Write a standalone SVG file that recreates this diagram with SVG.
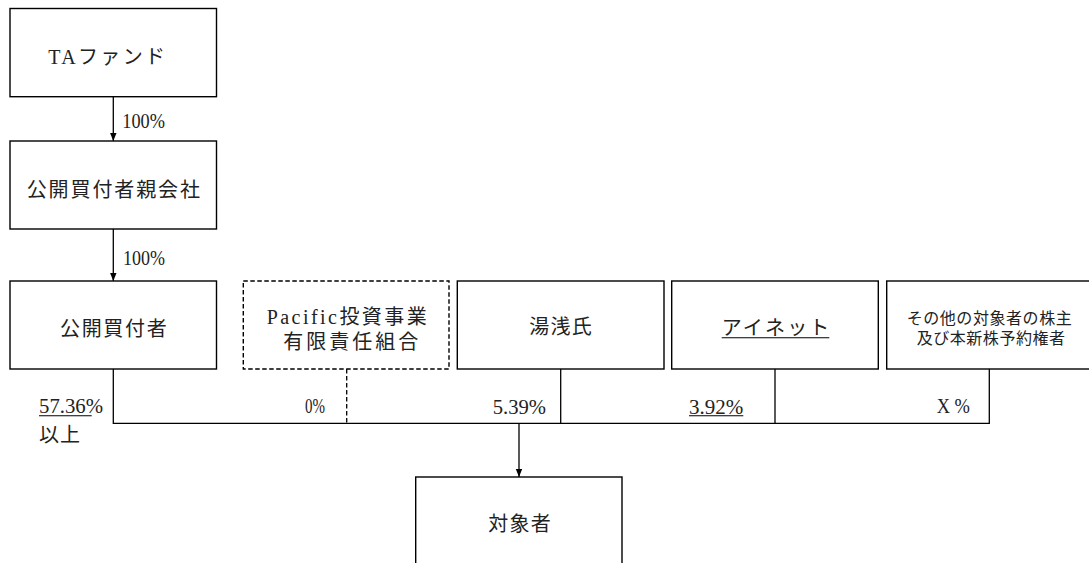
<svg xmlns="http://www.w3.org/2000/svg" width="1089" height="563" viewBox="0 0 1089 563">
<style>
.box{fill:#fff;stroke:#000;stroke-width:1.4}
.dash{stroke-dasharray:4.5,2.5}
.ln{fill:none;stroke:#000;stroke-width:1.3}
.t{font-family:"Liberation Serif","Noto Sans CJK JP",serif;font-size:20px;fill:#222}
.s{font-size:16px}
.u{stroke:#000;stroke-width:1.1}
</style>
<defs>
<marker id="ah" markerUnits="userSpaceOnUse" markerWidth="8" markerHeight="10" refX="4" refY="9" orient="auto-start-reverse" viewBox="0 0 8 10">
<path d="M0.8,1 L7.2,1 L4,9 Z" fill="#000"/>
</marker>
<marker id="ad" markerUnits="userSpaceOnUse" markerWidth="8" markerHeight="10" refX="4" refY="9" viewBox="0 0 8 10">
<path d="M0.8,1 L7.2,1 L4,9 Z" fill="#000"/>
</marker>
</defs>

<g id="connectors">
<line class="ln" x1="113.3" y1="96.7" x2="113.3" y2="141" marker-end="url(#ad)"/>
<line class="ln" x1="113.3" y1="229" x2="113.3" y2="281" marker-end="url(#ad)"/>
<polyline class="ln" points="113.3,369 113.3,423.3 989.3,423.3 989.3,369"/>
<line class="ln dash" x1="346.7" y1="369" x2="346.7" y2="423.3"/>
<line class="ln" x1="560.7" y1="369" x2="560.7" y2="423.3"/>
<line class="ln" x1="775" y1="369" x2="775" y2="423.3"/>
<line class="ln" x1="519" y1="423.3" x2="519" y2="477" marker-end="url(#ad)"/>
</g>

<g id="edge-labels">
<text class="t" x="122.3" y="128.3" textLength="42.7" lengthAdjust="spacingAndGlyphs">100%</text>
<text class="t" x="123" y="264.5" textLength="42" lengthAdjust="spacingAndGlyphs">100%</text>
<text class="t" x="39" y="413.3" textLength="64" lengthAdjust="spacingAndGlyphs">57.36%</text>
<line class="u" x1="39" y1="415.7" x2="91.7" y2="415.7"/>
<text class="t" x="39" y="441.6" textLength="41" lengthAdjust="spacing">以上</text>
<text class="t" x="305" y="413.3" textLength="20" lengthAdjust="spacingAndGlyphs">0%</text>
<text class="t" x="492.7" y="413.5" textLength="53.3" lengthAdjust="spacingAndGlyphs">5.39%</text>
<text class="t" x="689" y="413.5" textLength="54.3" lengthAdjust="spacingAndGlyphs">3.92%</text>
<line class="u" x1="689" y1="415.7" x2="743.3" y2="415.7"/>
<text class="t" x="936.7" y="413" textLength="33.3" lengthAdjust="spacingAndGlyphs">X %</text>
</g>

<g id="node-ta-fund">
<rect class="box" x="10" y="8.5" width="206.5" height="88.2"/>
<text class="t" x="48.3" y="64.1" textLength="116.7" lengthAdjust="spacing">TAファンド</text>
</g>

<g id="node-parent">
<rect class="box" x="10" y="141" width="206.5" height="88"/>
<text class="t" x="26.7" y="196.6" textLength="173.3" lengthAdjust="spacing">公開買付者親会社</text>
</g>

<g id="node-offeror">
<rect class="box" x="10" y="281" width="206.5" height="88"/>
<text class="t" x="60" y="335.6" textLength="106.7" lengthAdjust="spacing">公開買付者</text>
</g>

<g id="node-pacific">
<rect class="box dash" x="243.3" y="281" width="205.7" height="88"/>
<text class="t" x="266.7" y="324.3" textLength="160" lengthAdjust="spacing">Pacific投資事業</text>
<text class="t" x="283.3" y="348.6" textLength="135" lengthAdjust="spacing">有限責任組合</text>
</g>

<g id="node-yuasa">
<rect class="box" x="457.3" y="281" width="206.7" height="88"/>
<text class="t" x="529.3" y="334" textLength="62.4" lengthAdjust="spacing">湯浅氏</text>
</g>

<g id="node-inet">
<rect class="box" x="671.7" y="281" width="206.6" height="88"/>
<text class="t" x="721.7" y="334.6" textLength="107.6" lengthAdjust="spacing">アイネット</text>
<line class="u" x1="721.7" y1="337.7" x2="829.3" y2="337.7"/>
</g>

<g id="node-others">
<rect class="box" x="886.7" y="281" width="206.6" height="88"/>
<text class="t s" x="906.7" y="324" textLength="165" lengthAdjust="spacing">その他の対象者の株主</text>
<text class="t s" x="916.7" y="343.6" textLength="148.3" lengthAdjust="spacing">及び本新株予約権者</text>
</g>

<g id="node-target">
<rect class="box" x="415.7" y="477" width="206.3" height="100"/>
<text class="t" x="488.3" y="530.6" textLength="62.4" lengthAdjust="spacing">対象者</text>
</g>
</svg>
